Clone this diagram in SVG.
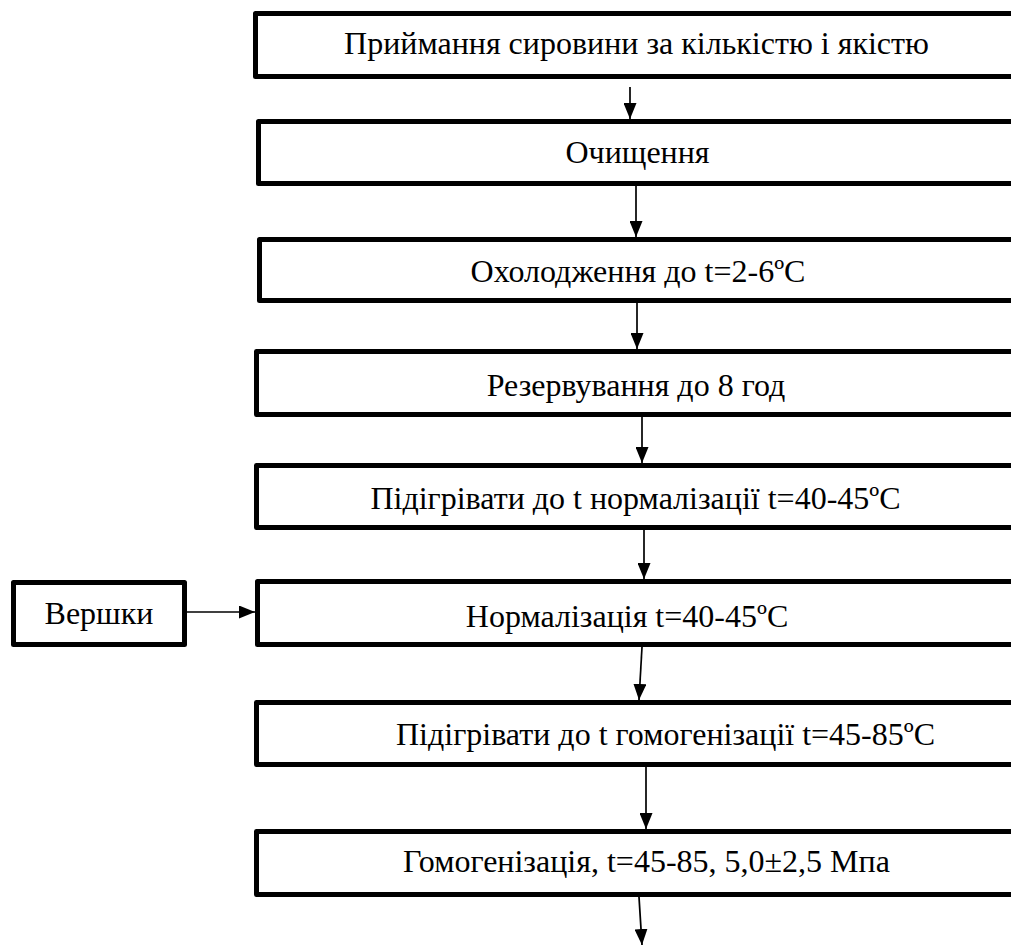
<svg xmlns="http://www.w3.org/2000/svg" width="1011" height="945" viewBox="0 0 1011 945">
<style>
  .box { fill: #ffffff; stroke: #000000; stroke-width: 5; stroke-linejoin: round; }
  .lbl { font-family: "Liberation Serif", "Times New Roman", serif; font-size: 32px; fill: #000000; text-anchor: middle; }
  .conn { stroke: #000000; stroke-width: 1.7; fill: none; marker-end: url(#arrow); }
</style>
<defs>
  <marker id="arrow" viewBox="0 0 16 13" refX="16" refY="6.5" markerWidth="16" markerHeight="13" markerUnits="userSpaceOnUse" orient="auto">
    <path d="M0,0 L16,6.5 L0,13 Z" fill="#000000"/>
  </marker>
</defs>
<rect x="0" y="0" width="1011" height="945" fill="#ffffff"/>

<g id="node-1">
  <rect class="box" x="255.5" y="13.5" width="780" height="63"/>
  <text class="lbl" x="636.5" y="54">Приймання сировини за кількістю і якістю</text>
</g>
<g id="node-2">
  <rect class="box" x="258.5" y="121.5" width="780" height="62"/>
  <text class="lbl" x="637.5" y="163">Очищення</text>
</g>
<g id="node-3">
  <rect class="box" x="259.5" y="239.5" width="780" height="61"/>
  <text class="lbl" x="638" y="282">Охолодження до t=2-6ºC</text>
</g>
<g id="node-4">
  <rect class="box" x="256.5" y="351.5" width="780" height="63"/>
  <text class="lbl" x="636" y="396">Резервування до 8 год</text>
</g>
<g id="node-5">
  <rect class="box" x="256.5" y="465.5" width="780" height="62"/>
  <text class="lbl" x="635.5" y="509">Підігрівати до t нормалізації t=40-45ºC</text>
</g>
<g id="node-6">
  <rect class="box" x="257.5" y="581.5" width="780" height="63"/>
  <text class="lbl" x="627" y="627">Нормалізація t=40-45ºC</text>
</g>
<g id="node-7">
  <rect class="box" x="256.5" y="702.5" width="780" height="62"/>
  <text class="lbl" x="665.5" y="745">Підігрівати до t гомогенізації t=45-85ºC</text>
</g>
<g id="node-8">
  <rect class="box" x="256.5" y="831.5" width="780" height="63"/>
  <text class="lbl" x="646.5" y="872">Гомогенізація, t=45-85, 5,0±2,5 Мпа</text>
</g>
<g id="node-vershky">
  <rect class="box" x="13.5" y="582.5" width="171" height="62"/>
  <text class="lbl" x="99" y="624">Вершки</text>
</g>

<g id="connectors">
  <line class="conn" x1="630" y1="87" x2="630" y2="119"/>
  <line class="conn" x1="636" y1="186" x2="636" y2="237"/>
  <line class="conn" x1="637" y1="303" x2="637" y2="349"/>
  <line class="conn" x1="642" y1="417" x2="642" y2="463"/>
  <line class="conn" x1="644" y1="530" x2="644" y2="579"/>
  <line class="conn" x1="642" y1="647" x2="639" y2="700"/>
  <line class="conn" x1="646" y1="767" x2="646" y2="829"/>
  <line class="conn" x1="639" y1="897" x2="642" y2="945"/>
  <line class="conn" x1="187" y1="612" x2="255" y2="612"/>
</g>
</svg>
